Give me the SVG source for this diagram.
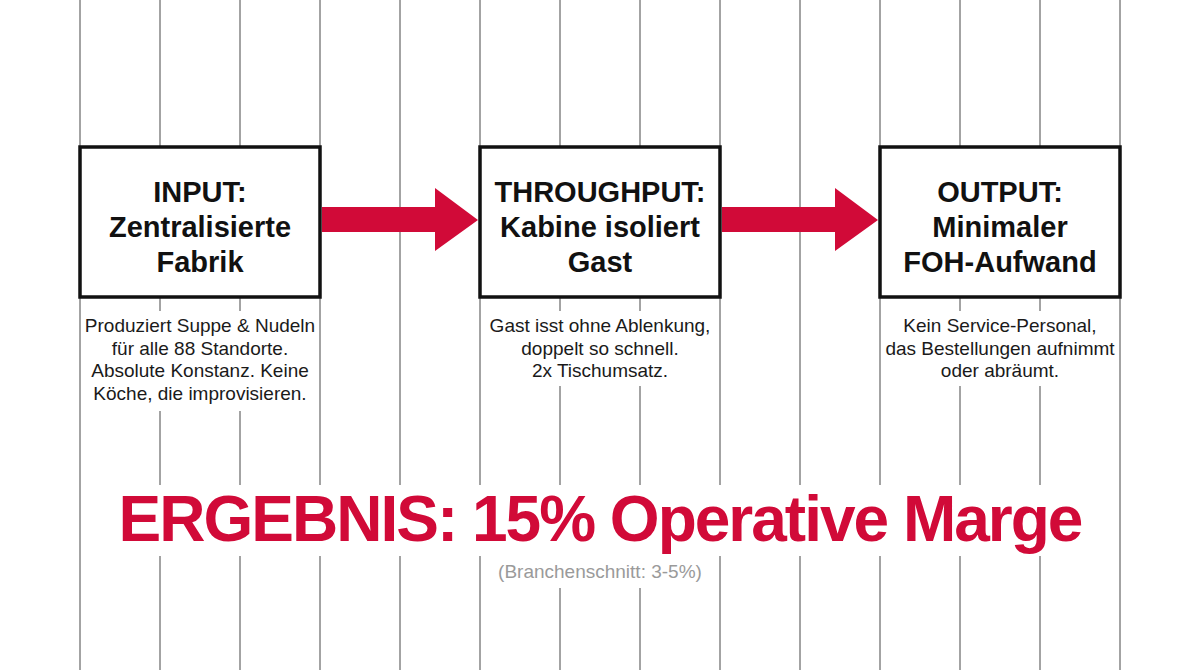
<svg xmlns="http://www.w3.org/2000/svg" width="1200" height="670" viewBox="0 0 1200 670">
<style>
.grid{stroke:#8c8c8c;stroke-width:1.6}
.box{fill:#fff;stroke:#111;stroke-width:3.5}
.mask{fill:#fff}
.ttl{font-family:"Liberation Sans",Arial,sans-serif;font-weight:700;font-size:29px;fill:#111;text-anchor:middle}
.desc{font-family:"Liberation Sans",Arial,sans-serif;font-size:19px;fill:#1a1a1a;text-anchor:middle}
.arrow{fill:#d10a38}
.result{font-family:"Liberation Sans",Arial,sans-serif;font-weight:700;font-size:64px;fill:#d10a38;text-anchor:middle;letter-spacing:-2px}
.sub{font-family:"Liberation Sans",Arial,sans-serif;font-size:19px;fill:#9a9a9a;text-anchor:middle}
</style>
<rect width="1200" height="670" fill="#fff"/>
<g id="grid">
<line class="grid" x1="80" y1="0" x2="80" y2="670"/>
<line class="grid" x1="160" y1="0" x2="160" y2="670"/>
<line class="grid" x1="240" y1="0" x2="240" y2="670"/>
<line class="grid" x1="320" y1="0" x2="320" y2="670"/>
<line class="grid" x1="400" y1="0" x2="400" y2="670"/>
<line class="grid" x1="480" y1="0" x2="480" y2="670"/>
<line class="grid" x1="560" y1="0" x2="560" y2="670"/>
<line class="grid" x1="640" y1="0" x2="640" y2="670"/>
<line class="grid" x1="720" y1="0" x2="720" y2="670"/>
<line class="grid" x1="800" y1="0" x2="800" y2="670"/>
<line class="grid" x1="880" y1="0" x2="880" y2="670"/>
<line class="grid" x1="960" y1="0" x2="960" y2="670"/>
<line class="grid" x1="1040" y1="0" x2="1040" y2="670"/>
<line class="grid" x1="1120" y1="0" x2="1120" y2="670"/>
</g>
<g id="masks">
<rect class="mask" x="83" y="311" width="234" height="100"/>
<rect class="mask" x="483" y="311" width="234" height="75"/>
<rect class="mask" x="883" y="311" width="234" height="75"/>
<rect class="mask" x="90" y="485" width="1020" height="71"/>
<rect class="mask" x="490" y="555" width="220" height="33"/>
</g>
<g id="connectors">
<polygon class="arrow" points="322,207 435,207 435,188 478,220 435,251 435,232 322,232"/>
<polygon class="arrow" points="722,207 835,207 835,188 878,220 835,251 835,232 722,232"/>
</g>
<g id="input">
<rect class="box" x="80" y="147" width="240" height="150"/>
<text class="ttl" x="200" y="202">INPUT:</text>
<text class="ttl" x="200" y="237">Zentralisierte</text>
<text class="ttl" x="200" y="272">Fabrik</text>
<text class="desc" x="200" y="332">Produziert Suppe &amp; Nudeln</text>
<text class="desc" x="200" y="354.5">für alle 88 Standorte.</text>
<text class="desc" x="200" y="377">Absolute Konstanz. Keine</text>
<text class="desc" x="200" y="399.5">Köche, die improvisieren.</text>
</g>
<g id="throughput">
<rect class="box" x="480" y="147" width="240" height="150"/>
<text class="ttl" x="600" y="202">THROUGHPUT:</text>
<text class="ttl" x="600" y="237">Kabine isoliert</text>
<text class="ttl" x="600" y="272">Gast</text>
<text class="desc" x="600" y="332">Gast isst ohne Ablenkung,</text>
<text class="desc" x="600" y="354.5">doppelt so schnell.</text>
<text class="desc" x="600" y="377">2x Tischumsatz.</text>
</g>
<g id="output">
<rect class="box" x="880" y="147" width="240" height="150"/>
<text class="ttl" x="1000" y="202">OUTPUT:</text>
<text class="ttl" x="1000" y="237">Minimaler</text>
<text class="ttl" x="1000" y="272">FOH-Aufwand</text>
<text class="desc" x="1000" y="332">Kein Service-Personal,</text>
<text class="desc" x="1000" y="354.5">das Bestellungen aufnimmt</text>
<text class="desc" x="1000" y="377">oder abräumt.</text>
</g>
<g id="result">
<text class="result" x="600" y="541">ERGEBNIS: 15% Operative Marge</text>
<text class="sub" x="600" y="578">(Branchenschnitt: 3-5%)</text>
</g>
</svg>
